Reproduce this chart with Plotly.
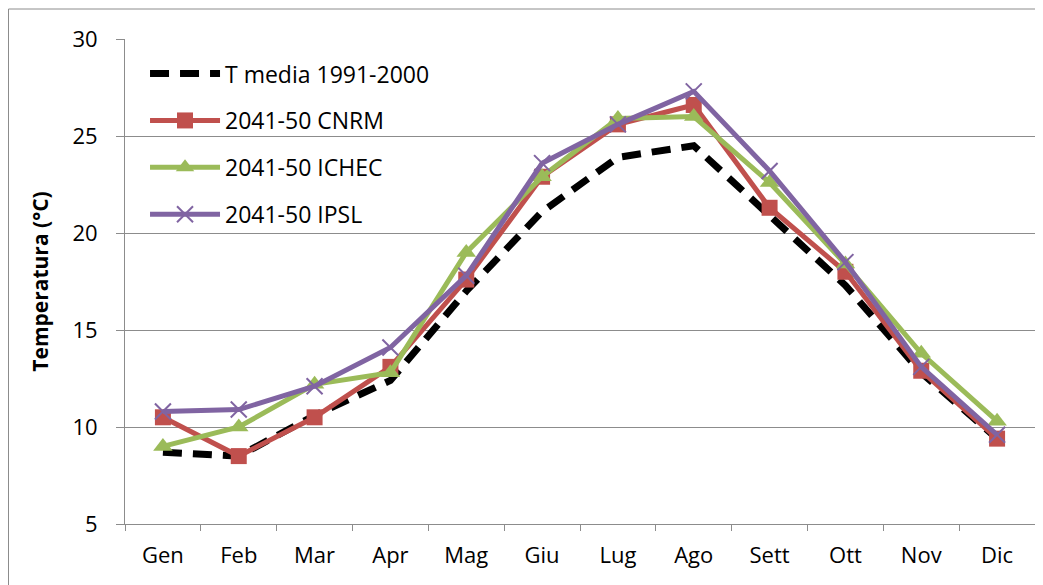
import plotly.graph_objects as go

months = ["Gen", "Feb", "Mar", "Apr", "Mag", "Giu", "Lug", "Ago", "Sett", "Ott", "Nov", "Dic"]
t_media = [8.7, 8.5, 10.6, 12.4, 17.0, 21.1, 23.9, 24.5, 20.9, 17.3, 12.8, 9.4]
cnrm = [10.5, 8.5, 10.5, 13.1, 17.6, 22.9, 25.6, 26.6, 21.3, 18.0, 12.9, 9.4]
ichec = [9.0, 10.0, 12.2, 12.8, 19.0, 22.9, 25.9, 26.0, 22.6, 18.4, 13.8, 10.3]
ipsl = [10.8, 10.9, 12.1, 14.1, 17.8, 23.6, 25.6, 27.3, 23.2, 18.5, 13.1, 9.6]

names = ["T media 1991-2000", "2041-50 CNRM", "2041-50 ICHEC", "2041-50 IPSL"]

FONT = "Open Sans"
GRID = "#8c8c8c"

fig = go.Figure()
fig.add_trace(go.Scatter(
    x=months, y=t_media, name=names[0], mode="lines", legendgroup="a",
    line=dict(color="black", width=7, dash="19px,11px")))
fig.add_trace(go.Scatter(
    x=months, y=cnrm, name=names[1], mode="lines+markers", legendgroup="b",
    line=dict(color="#C0504D", width=5),
    marker=dict(symbol="square", size=16, color="#C0504D")))
fig.add_trace(go.Scatter(
    x=months, y=ichec, name=names[2], mode="lines+markers", legendgroup="c",
    line=dict(color="#9BBB59", width=5),
    marker=dict(symbol="triangle-up", size=17, color="#9BBB59")))
fig.add_trace(go.Scatter(
    x=months, y=ipsl, name=names[3], mode="lines+markers", legendgroup="d",
    line=dict(color="#8064A2", width=5),
    marker=dict(symbol="x-thin", size=16, color="#8064A2",
                line=dict(color="#8064A2", width=2))))

# page body has an 8px margin; compensate
OFF = 8
L, R, T, B = 125 - OFF, 8, 39 - OFF, 61
W, H = 1043 - OFF, 585 - OFF
pw, ph = W - L - R, H - T - B

fig.update_layout(
    width=W, height=H,
    margin=dict(l=L, r=R, t=T, b=B, pad=0),
    paper_bgcolor="white", plot_bgcolor="white",
    font=dict(family=FONT, size=22, color="black"),
    showlegend=True,
    legend=dict(
        x=0.022, y=0.973, xanchor="left", yanchor="top",
        bgcolor="rgba(0,0,0,0)", font=dict(family=FONT, size=23),
        traceorder="grouped", tracegroupgap=14, itemwidth=70,
    ),
    shapes=[dict(
        type="rect", xref="paper", yref="paper",
        x0=(0.5 - L) / pw, x1=(W + 20 - L) / pw,
        y0=-(H + 20 - (T + ph)) / ph, y1=(T + ph - 1) / ph,
        line=dict(color=GRID, width=1), fillcolor="rgba(0,0,0,0)", layer="below")],
)

fig.update_xaxes(
    type="category", showgrid=False, showline=True, linecolor=GRID, linewidth=1,
    ticks="outside", tickson="boundaries", ticklen=6, tickcolor=GRID,
    tickfont=dict(family=FONT, size=22), ticklabelstandoff=12,
    range=[-0.5, 11.5], zeroline=False, mirror=False)
fig.update_yaxes(
    range=[5, 30], dtick=5, tick0=5, showgrid=True, gridcolor=GRID, gridwidth=1,
    showline=True, linecolor=GRID, linewidth=1, ticks="outside", ticklen=8,
    tickcolor=GRID, tickfont=dict(family=FONT, size=22), ticklabelstandoff=14,
    zeroline=False,
    title=dict(text="<b>Temperatura (°C)</b>", font=dict(family=FONT, size=21), standoff=18))

fig.write_html("out.html")
